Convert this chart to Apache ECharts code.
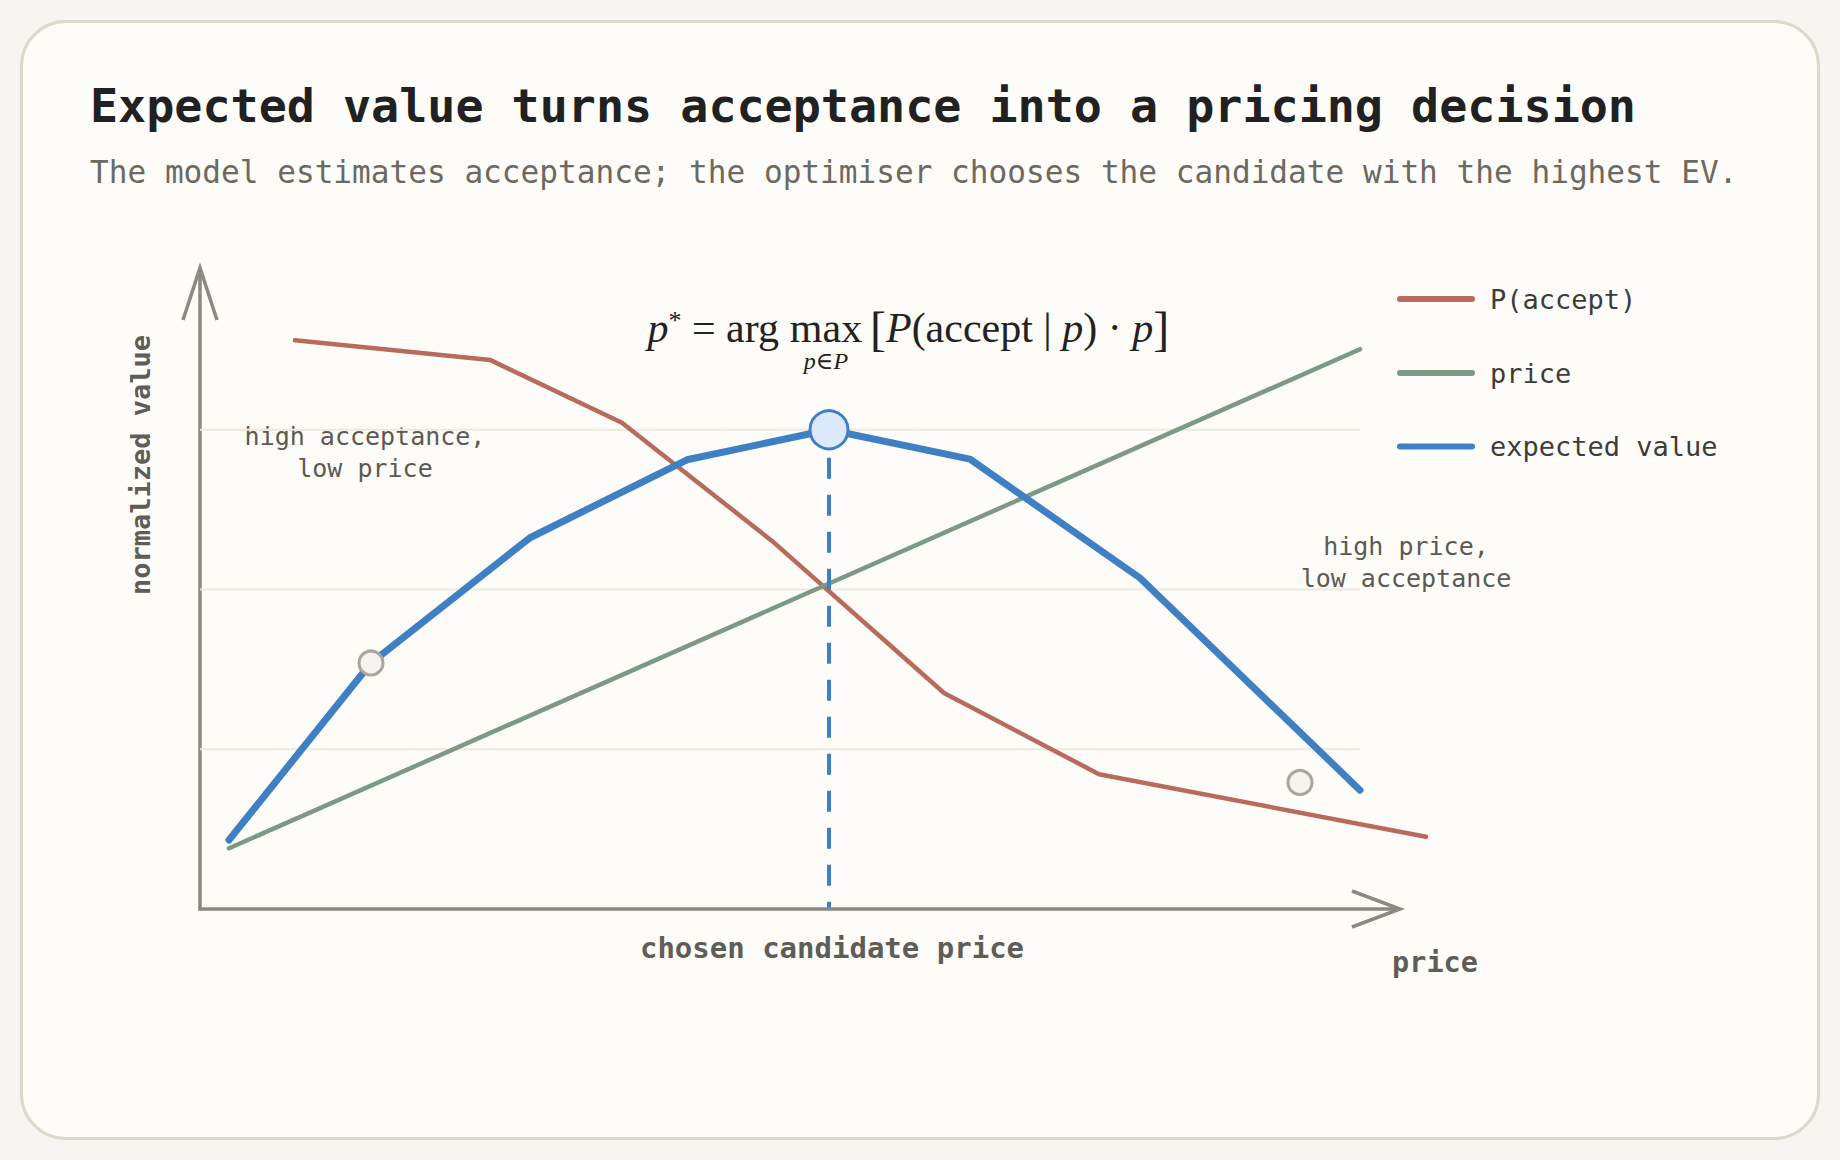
<!DOCTYPE html>
<html><head><meta charset="utf-8">
<script src="https://cdn.jsdelivr.net/npm/echarts@6/dist/echarts.min.js"></script>
<style>
html,body{margin:0;padding:0;background:#f6f5f1;}
#card{position:absolute;left:20px;top:20px;width:1800px;height:1120px;box-sizing:border-box;border:3px solid #ddd8cb;border-radius:46px;background:#fdfcf8;}
#chart{position:absolute;left:0;top:0;width:1840px;height:1160px;}
</style></head><body>
<div id="card"></div><div id="chart"></div>
<script>
// ---- data (x = candidate price position, y = normalized value) ----
const acceptX = [9.5, 29.05, 42.2, 57.2, 74.4, 89.9, 122.6];
const acceptY = [0.890, 0.859, 0.761, 0.576, 0.338, 0.211, 0.113];
const priceX = [2.9, 116.0];
const priceY = [0.095, 0.876];
const evX = [2.9, 17.1, 33.0, 48.7, 62.9, 77.0, 94.0, 116.0];
const evY = [0.108, 0.385, 0.581, 0.703, 0.750, 0.704, 0.518, 0.186];
const gridLevels = [0.25, 0.5, 0.75];
const gridEndX = 116.0;
const axisEndX = 120;
const calloutX = [17.1, 110.0];
const calloutY = [0.385, 0.198];
const seriesNames = ['P(accept)', 'price', 'expected value'];
const titleText = 'Expected value turns acceptance into a pricing decision';
const subtitleText = 'The model estimates acceptance; the optimiser chooses the candidate with the highest EV.';
const leftNote = 'high acceptance,\nlow price';
const rightNote = 'high price,\nlow acceptance';
const xLabel = 'chosen candidate price';
const xName = 'price';
const yName = 'normalized value';

const MONO = '"DejaVu Sans Mono", "Liberation Mono", monospace';
const SERIF = '"Liberation Serif", "DejaVu Serif", serif';
const C_RED = '#b86a5c', C_GREEN = '#7b9985', C_BLUE = '#3f80c5', C_AXIS = '#8a8983', C_GRID = '#eee9de';

const zip = (xs, ys) => xs.map((x, i) => [x, ys[i]]);
let peak = 0;
evY.forEach((v, i) => { if (v > evY[peak]) peak = i; });
const peakPt = [evX[peak], evY[peak]];

const capsule = 'path://M3,0 L75,0 A3,3 0 0 1 75,6 L3,6 A3,3 0 0 1 3,0 Z';
const legendTops = [278, 352, 425.5];
const legendColors = [C_RED, C_GREEN, C_BLUE];

const chart = echarts.init(document.getElementById('chart'), null, {renderer: 'svg'});

const gridSeries = gridLevels.map(v => ({
  type: 'line', silent: true, symbol: 'none', z: 1,
  data: [[0, v], [gridEndX, v]],
  lineStyle: {color: C_GRID, width: 2}
}));

const option = {
  backgroundColor: 'transparent',
  animation: false,
  title: [
    {text: titleText, left: 90, top: 78, padding: 0,
     textStyle: {fontFamily: MONO, fontSize: 46.7, fontWeight: 'bold', color: '#212121', lineHeight: 56}},
    {text: subtitleText, left: 90, top: 152, padding: 0,
     textStyle: {fontFamily: MONO, fontSize: 31.1, fontWeight: 'normal', color: '#6c6962', lineHeight: 40}}
  ],
  legend: seriesNames.map((n, i) => ({
    data: [{name: n, icon: capsule, itemStyle: {color: legendColors[i]}}],
    left: 1397, top: legendTops[i], orient: 'vertical', padding: 0,
    itemWidth: 78, itemHeight: i === 2 ? 8 : 6, selectedMode: false,
    textStyle: {fontFamily: MONO, fontSize: 27, color: '#3d3c38', lineHeight: 30, padding: [12, 0, 0, 10]}
  })),
  grid: {left: 200, top: 270, width: 1250, height: 639, containLabel: false},
  xAxis: {type: 'value', min: 0, max: 125,
    axisLine: {show: false}, axisTick: {show: false}, axisLabel: {show: false}, splitLine: {show: false}},
  yAxis: {type: 'value', min: 0, max: 1,
    axisLine: {show: true, lineStyle: {color: C_AXIS, width: 3.5}},
    axisTick: {show: false}, axisLabel: {show: false}, splitLine: {show: false}},
  series: [
    ...gridSeries,
    {name: seriesNames[0], type: 'line', symbol: 'none', clip: false, z: 3, color: C_RED,
     data: zip(acceptX, acceptY), lineStyle: {color: C_RED, width: 4.5, cap: 'round'}},
    {name: seriesNames[1], type: 'line', symbol: 'none', clip: false, z: 3, color: C_GREEN,
     data: zip(priceX, priceY), lineStyle: {color: C_GREEN, width: 4.5, cap: 'round'}},
    {name: seriesNames[2], type: 'line', symbol: 'none', clip: false, z: 4, color: C_BLUE,
     data: zip(evX, evY), lineStyle: {color: C_BLUE, width: 7, cap: 'round'},
     markLine: {silent: true, symbol: ['none', 'none'], label: {show: false},
       lineStyle: {color: C_BLUE, width: 4, type: [21, 16], dashOffset: 9},
       data: [[{coord: peakPt}, {coord: [peakPt[0], 0]}]]}},
    {type: 'scatter', silent: true, z: 6, symbolSize: 24, data: zip(calloutX, calloutY),
     itemStyle: {color: '#f4f3ef', borderColor: '#a9a69e', borderWidth: 3, opacity: 1}},
    {type: 'scatter', silent: true, z: 7, symbolSize: 38, data: [peakPt],
     itemStyle: {color: '#dce9fa', borderColor: C_BLUE, borderWidth: 3, opacity: 1}}
  ]
};
chart.setOption(option);

// axis arrows and annotations
const P = (x, y) => chart.convertToPixel({gridIndex: 0}, [x, y]);
const origin = P(0, 0), xTip = P(axisEndX, 0), yTip = P(0, 1), pkBase = P(peakPt[0], 0);
const fStyle = (text, x, y, align) => ({
  text, x, y, align, verticalAlign: 'middle', fill: '#222', fontFamily: SERIF, fontSize: 42,
  rich: {
    i: {fontFamily: SERIF, fontStyle: 'italic', fontSize: 42, fill: '#222'},
    r: {fontFamily: SERIF, fontSize: 42, fill: '#222'},
    s: {fontFamily: SERIF, fontSize: 26, fill: '#222', verticalAlign: 'top'},
    b: {fontFamily: SERIF, fontSize: 48, fill: '#222', verticalAlign: 'middle'}
  }
});
chart.setOption({
  graphic: [
    {type: 'line', silent: true, z: 10,
     shape: {x1: origin[0] - 1.75, y1: origin[1], x2: xTip[0], y2: xTip[1]},
     style: {stroke: C_AXIS, lineWidth: 3.5}},
    {type: 'polyline', silent: true, z: 10,
     shape: {points: [[xTip[0] - 48, xTip[1] - 18], xTip, [xTip[0] - 48, xTip[1] + 18]]},
     style: {stroke: C_AXIS, lineWidth: 3.5, fill: null}},
    {type: 'polyline', silent: true, z: 10,
     shape: {points: [[yTip[0] - 17, yTip[1] + 50], [yTip[0], yTip[1] - 2], [yTip[0] + 17, yTip[1] + 50]]},
     style: {stroke: C_AXIS, lineWidth: 3.5, fill: null}},
    {type: 'text', silent: true, style: fStyle('{i|p}{s|*}{r| = arg}', 779, 328, 'right')},
    {type: 'text', silent: true, style: fStyle('{r|max}', 826, 328, 'center')},
    {type: 'text', silent: true, style: fStyle('{b|[}{i|P}{r|(accept | }{i|p}{r|) · }{i|p}{b|]}', 870, 328, 'left')},
    {type: 'text', silent: true, style: {text: 'p∈P', x: 826, y: 361, align: 'center', verticalAlign: 'middle',
      fontFamily: SERIF, fontStyle: 'italic', fontSize: 24, fill: '#222'}},
    {type: 'text', silent: true, style: {text: leftNote, x: 365, y: 452, align: 'center', verticalAlign: 'middle',
      fontFamily: MONO, fontSize: 25, lineHeight: 32, fill: '#5b5953'}},
    {type: 'text', silent: true, style: {text: rightNote, x: 1406, y: 562, align: 'center', verticalAlign: 'middle',
      fontFamily: MONO, fontSize: 25, lineHeight: 32, fill: '#5b5953'}},
    {type: 'text', silent: true, style: {text: xLabel, x: pkBase[0] + 3, y: pkBase[1] + 39, align: 'center', verticalAlign: 'middle',
      fontFamily: MONO, fontSize: 29, fontWeight: 'bold', fill: '#5f5d57'}},
    {type: 'text', silent: true, style: {text: xName, x: xTip[0] + 35, y: xTip[1] + 53, align: 'center', verticalAlign: 'middle',
      fontFamily: MONO, fontSize: 28.5, fontWeight: 'bold', fill: '#5f5d57'}},
    {type: 'text', silent: true, rotation: Math.PI / 2, x: 140, y: 465,
     style: {text: yName, x: 0, y: 0, align: 'center', verticalAlign: 'middle',
      fontFamily: MONO, fontSize: 27, fontWeight: 'bold', fill: '#5f5d57'}}
  ]
});
</script>
</body></html>
